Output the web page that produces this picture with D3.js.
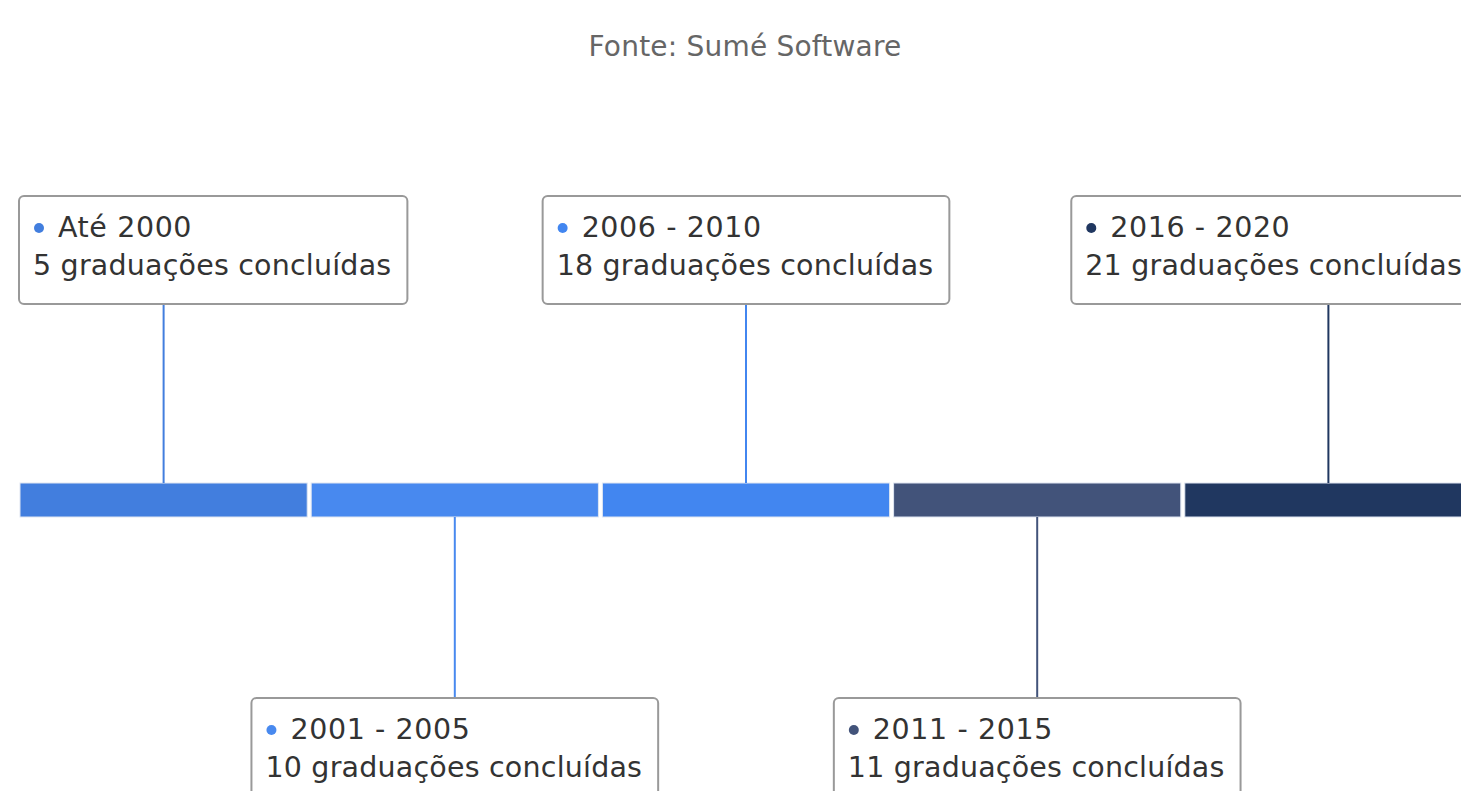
<!DOCTYPE html>
<meta charset="utf-8">
<style>
  body { margin: 0; overflow: hidden; background: #fff; }
  svg { font-family: "DejaVu Sans", sans-serif; }
</style>
<script src="https://d3js.org/d3.v7.min.js"></script>
<svg id="chart" width="1461" height="791"></svg>
<script>

// dados da linha do tempo
var periodos = ["Até 2000", "2001 - 2005", "2006 - 2010", "2011 - 2015", "2016 - 2020"];
var graduacoes = [5, 10, 18, 11, 21];
var cores = ["#427ede", "#4889ef", "#4286f0", "#42537a", "#203760"];
var fonte = "Fonte: Sumé Software";

var svg = d3.select("#chart");

// o gráfico original é um pouco mais largo que a janela
var larguraTotal = 1490;

svg.append("text")
  .attr("x", larguraTotal / 2)
  .attr("y", 56)
  .attr("text-anchor", "middle")
  .style("font-size", "28px")
  .style("letter-spacing", "0.2px")
  .style("fill", "#666666")
  .text(fonte);

var x = d3.scaleBand()
  .domain(periodos)
  .range([20, 1472])
  .paddingInner(0.0137);

var cor = d3.scaleOrdinal()
  .domain(periodos)
  .range(cores);

var barraY = 483, barraH = 34;

// segmentos da linha do tempo
svg.append("g")
  .selectAll("rect")
  .data(periodos)
  .enter()
  .append("rect")
    .attr("x", function(d) { return x(d); })
    .attr("y", barraY)
    .attr("width", x.bandwidth())
    .attr("height", barraH)
    .attr("fill", function(d) { return cor(d); })
    .attr("stroke", "#dfe6f2")
    .attr("stroke-width", 1);

// rótulos (alternando em cima e embaixo)
var topoCaixa = [196, 698];
var caixaH = 108;
var limiteEsq = 19, limiteDir = 1478;

var rotulos = svg.append("g")
  .selectAll("g")
  .data(periodos)
  .enter()
  .append("g");

rotulos.each(function(d, i) {
  var g = d3.select(this);
  var lado = i % 2;
  var cx = x(d) + x.bandwidth() / 2;
  var top = topoCaixa[lado];

  var caixa = g.append("rect")
    .attr("y", top)
    .attr("height", caixaH)
    .attr("rx", 5)
    .attr("fill", "#ffffff")
    .attr("stroke", "#999999")
    .attr("stroke-width", 2);

  var t1 = g.append("text")
    .attr("y", top + 41)
    .style("font-size", "28.5px")
    .style("letter-spacing", "0.6px")
    .style("fill", "#333333")
    .text(d);

  var t2 = g.append("text")
    .attr("y", top + 79)
    .style("font-size", "28.5px")
    .style("letter-spacing", "0.2px")
    .style("fill", "#333333")
    .text(graduacoes[i] + " graduações concluídas");

  var w1 = t1.node().getComputedTextLength() + 25;
  var w2 = t2.node().getComputedTextLength();
  var w = Math.max(w1, w2) + 30;

  var bx = cx - w / 2;
  if (bx < limiteEsq) bx = limiteEsq;
  if (bx + w > limiteDir) bx = limiteDir - w;

  caixa.attr("x", bx).attr("width", w);
  t1.attr("x", bx + 39);
  t2.attr("x", bx + 14);

  g.append("circle")
    .attr("cx", bx + 20)
    .attr("cy", top + 32)
    .attr("r", 5)
    .attr("fill", cor(d));

  // conector
  var y1 = lado === 0 ? top + caixaH : barraY + barraH;
  var y2 = lado === 0 ? barraY : top;
  g.insert("line", ":first-child")
    .attr("x1", cx).attr("x2", cx)
    .attr("y1", y1).attr("y2", y2)
    .attr("stroke", cor(d))
    .attr("stroke-width", 2);
});

</script>
